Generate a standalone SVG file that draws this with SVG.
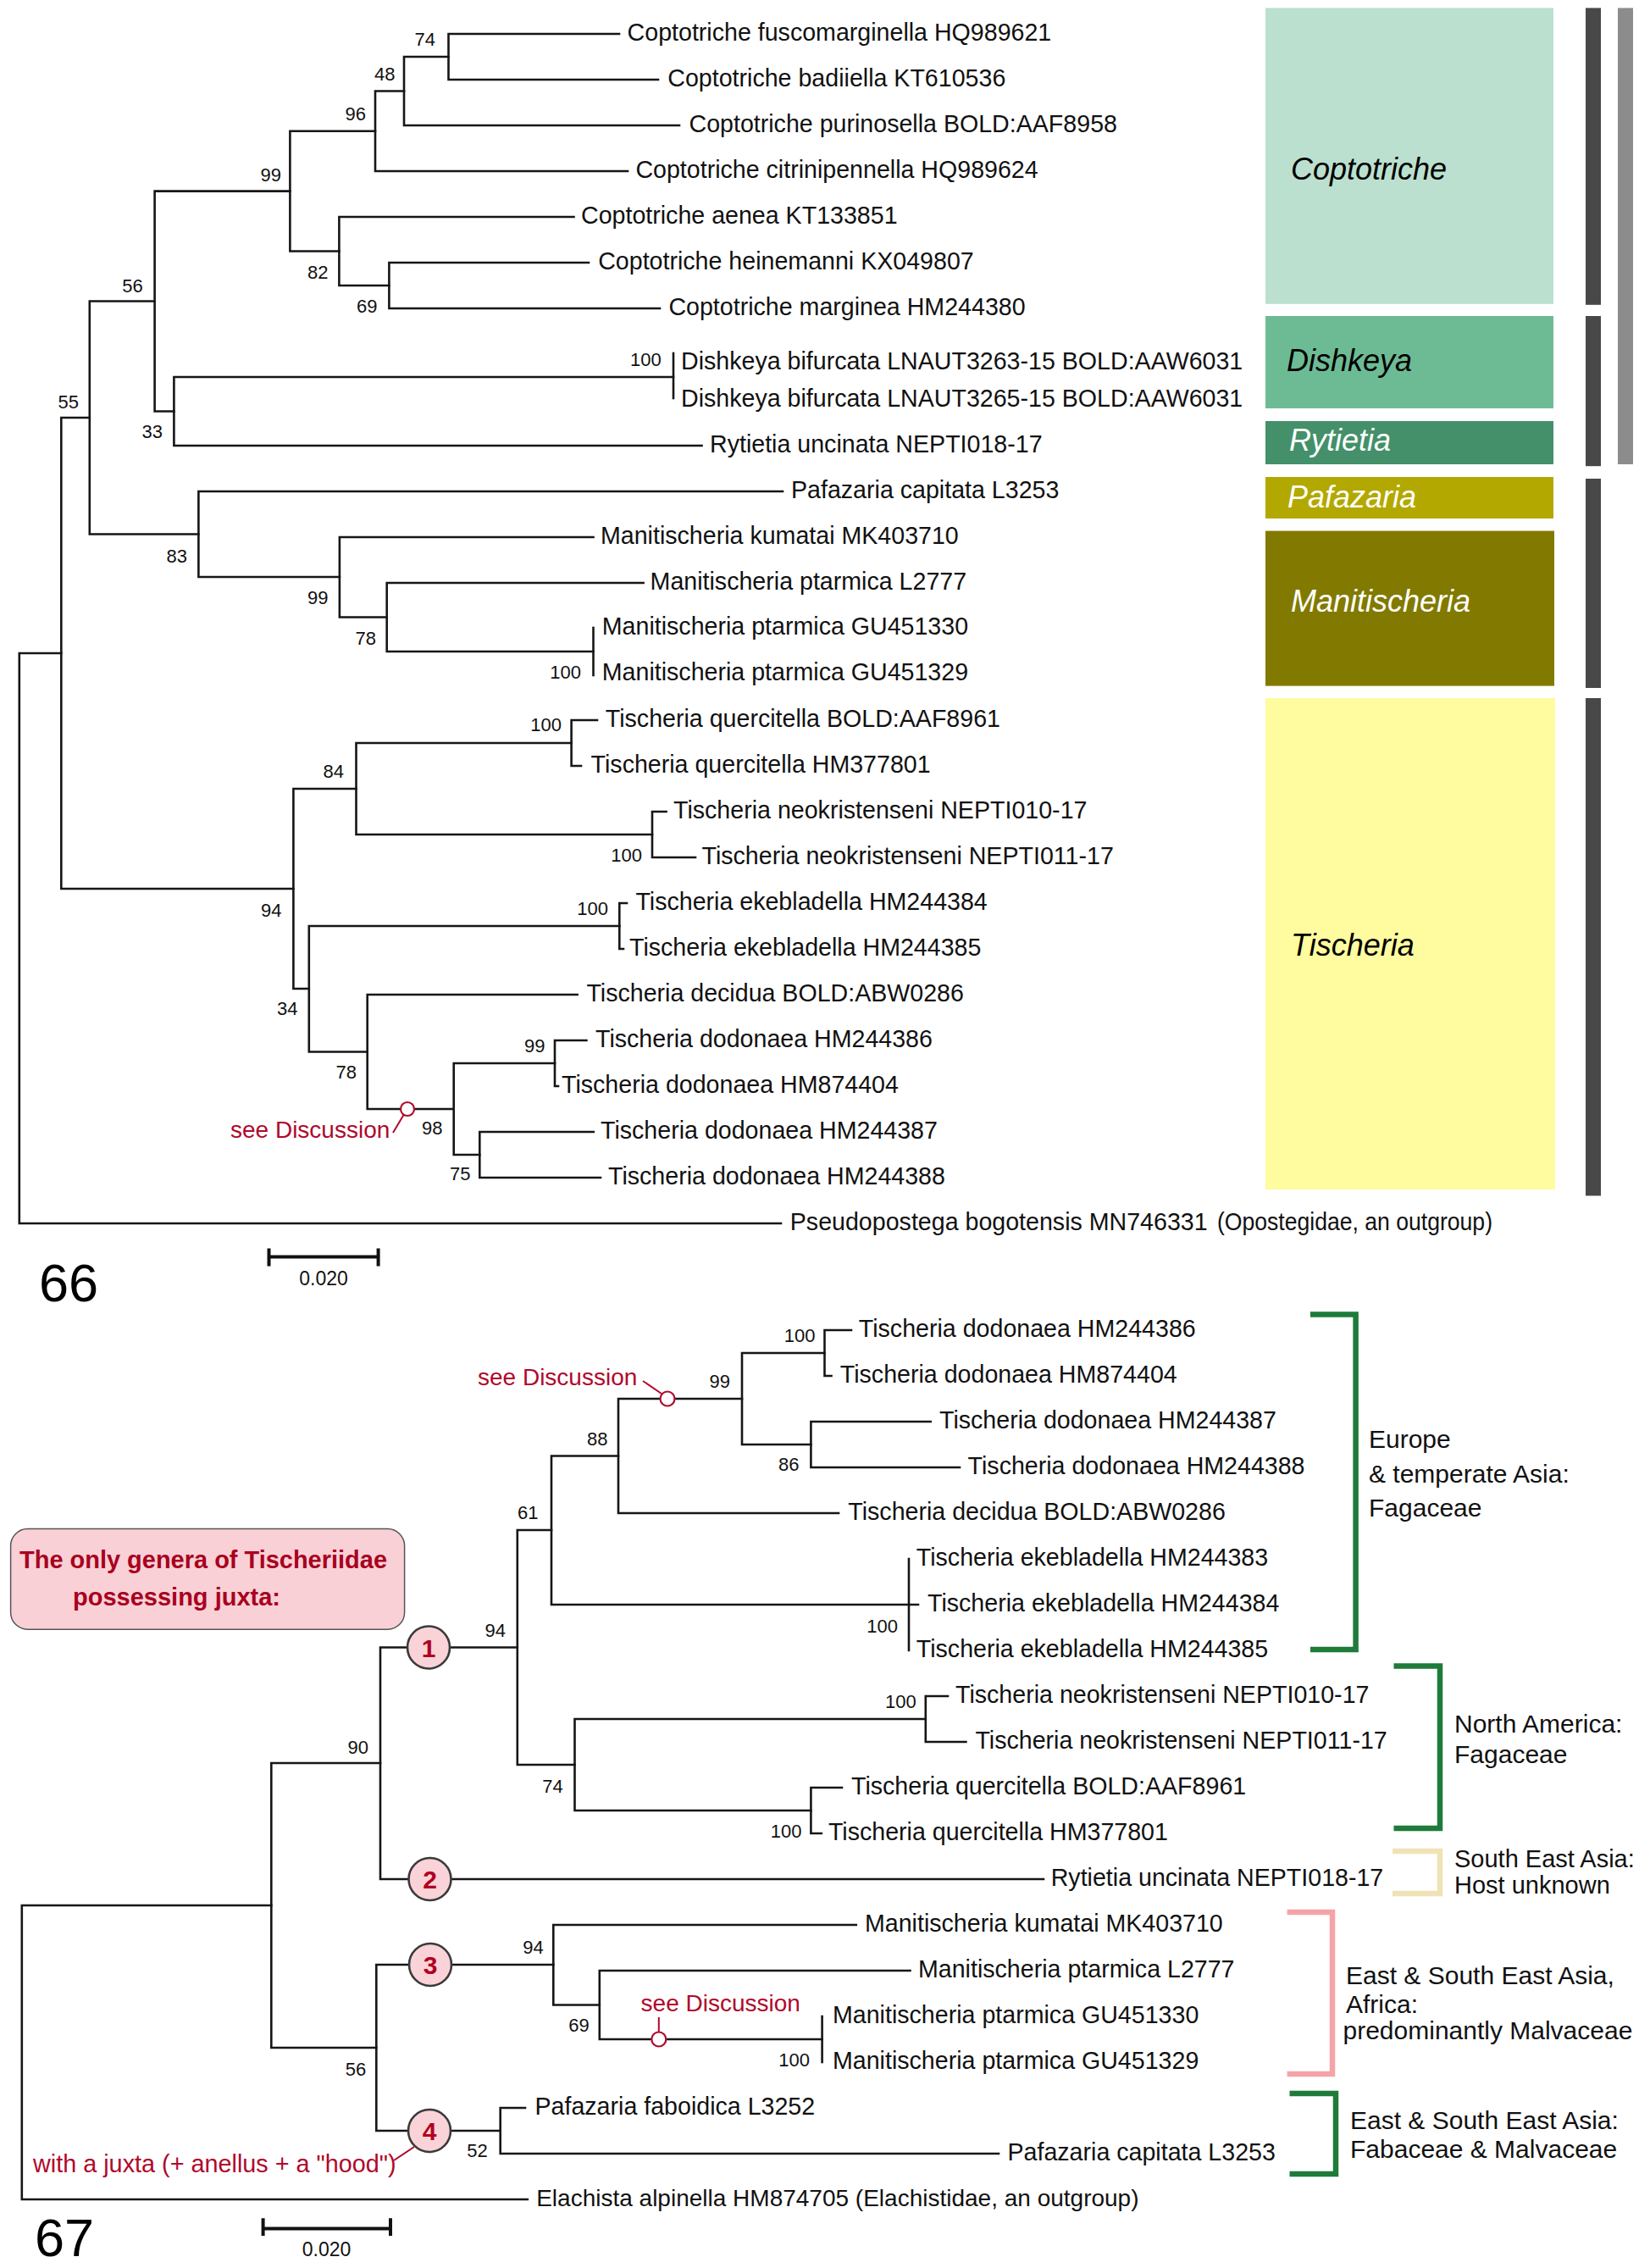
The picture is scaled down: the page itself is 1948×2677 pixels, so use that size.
<svg xmlns="http://www.w3.org/2000/svg" width="1948" height="2677" viewBox="0 0 1948 2677">
<style>
text{font-family:"Liberation Sans",Arial,sans-serif;}
.br{fill:none;stroke:#161616;stroke-width:2.6;stroke-linecap:square;}
.lf{font-size:28.6px;fill:#111;}
.bs{font-size:22px;fill:#111;text-anchor:end;}
.gn{font-size:36px;font-style:italic;}
.rg{font-size:30px;fill:#111;}
.red{font-size:28px;fill:#b0082c;}
.rl{fill:none;stroke:#b0082c;stroke-width:2;}
.mk{fill:#fff;stroke:#b0082c;stroke-width:2.2;}
.cn{fill:#f9d3d8;stroke:#3a3a3a;stroke-width:2.6;}
.cnt{font-size:30px;font-weight:bold;fill:#b0001f;text-anchor:middle;}
.bk{fill:none;stroke-width:6.5;}
.sb{fill:none;stroke:#111;stroke-width:4;}
</style>
<rect x="0" y="0" width="1948" height="2677" fill="#fff"/>

<!-- ===== Figure 66 ===== -->
<g id="connectors-66">
<path class="br" d="M529.5,40 V94 M529.5,40 H731 M529.5,94 H777"/>
<path class="br" d="M477,67 V148 M477,67 H529.5 M477,148 H802"/>
<path class="br" d="M443,107.5 V202 M443,107.5 H477 M443,202 H741"/>
<path class="br" d="M459.4,310 V364 M459.4,310 H695 M459.4,364 H779"/>
<path class="br" d="M400.4,256 V337 M400.4,256 H677.5 M400.4,337 H459.4"/>
<path class="br" d="M342.4,154.75 V296.5 M342.4,154.75 H443 M342.4,296.5 H400.4"/>
<path class="br" d="M795,417 V470"/>
<path class="br" d="M205.4,445 V526 M205.4,445 H795 M205.4,526 H828.5"/>
<path class="br" d="M182.6,225.6 V485.5 M182.6,225.6 H342.4 M182.6,485.5 H205.4"/>
<path class="br" d="M700.5,741 V797"/>
<path class="br" d="M456.7,688 V769 M456.7,688 H759.6 M456.7,769 H700.5"/>
<path class="br" d="M400.9,634 V728.5 M400.9,634 H700.5 M400.9,728.5 H456.7"/>
<path class="br" d="M234.4,580 V681 M234.4,580 H924 M234.4,681 H400.9"/>
<path class="br" d="M105.8,355.5 V630.5 M105.8,355.5 H182.6 M105.8,630.5 H234.4"/>
<path class="br" d="M674.6,850 V904 M674.6,850 H705 M674.6,904 H686"/>
<path class="br" d="M770,958 V1012 M770,958 H786.6 M770,1012 H821"/>
<path class="br" d="M420.5,877 V985 M420.5,877 H674.6 M420.5,985 H770"/>
<path class="br" d="M731.3,1066 V1120 M731.3,1066 H740 M731.3,1120 H736"/>
<path class="br" d="M655,1228 V1282 M655,1228 H692.4 M655,1282 H659"/>
<path class="br" d="M566.3,1336 V1390 M566.3,1336 H700.7 M566.3,1390 H709"/>
<path class="br" d="M535.7,1255 V1363 M535.7,1255 H655 M535.7,1363 H566.3"/>
<path class="br" d="M433.7,1174 V1309 M433.7,1174 H681.6 M433.7,1309 H535.7"/>
<path class="br" d="M364.8,1093 V1241.5 M364.8,1093 H731.3 M364.8,1241.5 H433.7"/>
<path class="br" d="M346.4,931 V1167 M346.4,931 H420.5 M346.4,1167 H364.8"/>
<path class="br" d="M72.3,493 V1049 M72.3,493 H105.8 M72.3,1049 H346.4"/>
<path class="br" d="M22.8,771 V1444 M22.8,771 H72.3 M22.8,1444 H922"/>
<path class="rl" d="M464,1337 L476.5,1316"/>
<circle class="mk" cx="481" cy="1309" r="8"/>
</g>

<g id="leaves-66">
<text class="lf" x="740.6" y="48">Coptotriche fuscomarginella HQ989621</text>
<text class="lf" x="788.3" y="102">Coptotriche badiiella KT610536</text>
<text class="lf" x="813.5" y="156">Coptotriche purinosella BOLD:AAF8958</text>
<text class="lf" x="750.4" y="210">Coptotriche citrinipennella HQ989624</text>
<text class="lf" x="686" y="264">Coptotriche aenea KT133851</text>
<text class="lf" x="706.2" y="318">Coptotriche heinemanni KX049807</text>
<text class="lf" x="789.4" y="372">Coptotriche marginea HM244380</text>
<text class="lf" x="804" y="436">Dishkeya bifurcata LNAUT3263-15 BOLD:AAW6031</text>
<text class="lf" x="804" y="480">Dishkeya bifurcata LNAUT3265-15 BOLD:AAW6031</text>
<text class="lf" x="838" y="534">Rytietia uncinata NEPTI018-17</text>
<text class="lf" x="934" y="588">Pafazaria capitata L3253</text>
<text class="lf" x="709" y="642">Manitischeria kumatai MK403710</text>
<text class="lf" x="767.6" y="696">Manitischeria ptarmica L2777</text>
<text class="lf" x="710.8" y="749">Manitischeria ptarmica GU451330</text>
<text class="lf" x="710.8" y="803">Manitischeria ptarmica GU451329</text>
<text class="lf" x="714.8" y="858">Tischeria quercitella BOLD:AAF8961</text>
<text class="lf" x="697.6" y="912">Tischeria quercitella HM377801</text>
<text class="lf" x="795" y="966">Tischeria neokristenseni NEPTI010-17</text>
<text class="lf" x="828.5" y="1020">Tischeria neokristenseni NEPTI011-17</text>
<text class="lf" x="750.4" y="1074">Tischeria ekebladella HM244384</text>
<text class="lf" x="743" y="1128">Tischeria ekebladella HM244385</text>
<text class="lf" x="692.4" y="1182">Tischeria decidua BOLD:ABW0286</text>
<text class="lf" x="703" y="1236">Tischeria dodonaea HM244386</text>
<text class="lf" x="663" y="1290">Tischeria dodonaea HM874404</text>
<text class="lf" x="709" y="1344">Tischeria dodonaea HM244387</text>
<text class="lf" x="718" y="1398">Tischeria dodonaea HM244388</text>
<text class="lf" x="932.8" y="1452">Pseudopostega bogotensis MN746331</text>
<text class="lf" x="1437" y="1452" fill="#22223a" textLength="325" lengthAdjust="spacingAndGlyphs">(Opostegidae, an outgroup)</text>
</g>

<g id="support-66">
<text class="bs" x="514" y="54">74</text>
<text class="bs" x="466.5" y="94.6">48</text>
<text class="bs" x="432" y="142">96</text>
<text class="bs" x="332" y="214">99</text>
<text class="bs" x="387.5" y="328.6">82</text>
<text class="bs" x="445.5" y="368.6">69</text>
<text class="bs" x="168.8" y="344.6">56</text>
<text class="bs" x="192" y="517">33</text>
<text class="bs" x="93" y="482">55</text>
<text class="bs" x="780.8" y="432">100</text>
<text class="bs" x="221" y="664">83</text>
<text class="bs" x="387.5" y="713">99</text>
<text class="bs" x="444" y="760.7">78</text>
<text class="bs" x="686" y="801.4">100</text>
<text class="bs" x="663" y="863">100</text>
<text class="bs" x="757.9" y="1016.8">100</text>
<text class="bs" x="406" y="917.9">84</text>
<text class="bs" x="332.6" y="1082">94</text>
<text class="bs" x="718" y="1080">100</text>
<text class="bs" x="351.6" y="1198">34</text>
<text class="bs" x="421" y="1272.7">78</text>
<text class="bs" x="643.5" y="1241.7">99</text>
<text class="bs" x="522.4" y="1339">98</text>
<text class="bs" x="555.5" y="1393">75</text>
</g>
<text class="red" x="272" y="1343">see Discussion</text>

<g id="genus-boxes">
<g id="box-coptotriche"><rect x="1494" y="9.4" width="340" height="349.4" fill="#bbe0cf"/><text class="gn" x="1524" y="212" fill="#000">Coptotriche</text></g>
<g id="box-dishkeya"><rect x="1494" y="373" width="340" height="109" fill="#6dbb95"/><text class="gn" x="1519" y="438" fill="#000">Dishkeya</text></g>
<g id="box-rytietia"><rect x="1494" y="497" width="340" height="51" fill="#43906a"/><text class="gn" x="1522" y="532" fill="#fff">Rytietia</text></g>
<g id="box-pafazaria"><rect x="1494" y="563" width="340" height="49" fill="#b3a800"/><text class="gn" x="1520" y="599" fill="#fff">Pafazaria</text></g>
<g id="box-manitischeria"><rect x="1494" y="626.6" width="341" height="183" fill="#827a00"/><text class="gn" x="1524" y="722" fill="#fff">Manitischeria</text></g>
<g id="box-tischeria"><rect x="1494" y="824" width="342" height="580" fill="#fffb9f"/><text class="gn" x="1524" y="1128" fill="#000">Tischeria</text></g>
</g>
<g id="bars">
<rect x="1872" y="9.4" width="18" height="350.4" fill="#484848"/>
<rect x="1872" y="373" width="18" height="177.2" fill="#484848"/>
<rect x="1872" y="565" width="18" height="247" fill="#484848"/>
<rect x="1872" y="824" width="18" height="587.4" fill="#484848"/>
<rect x="1910" y="9.4" width="18" height="538.6" fill="#8c8c8c"/>
</g>

<g id="label-66"><text x="46" y="1536" font-size="63" fill="#000">66</text></g>
<g id="scale-66">
<path class="sb" d="M317.5,1473.6 V1494.6 M317.5,1483.5 H446.6 M446.6,1473.6 V1494.6"/>
<text x="382" y="1517" font-size="23" fill="#111" text-anchor="middle">0.020</text>
</g>

<!-- ===== Figure 67 ===== -->
<g id="connectors-67">
<path class="br" d="M973.5,1570 V1624 M973.5,1570 H1005 M973.5,1624 H981.5"/>
<path class="br" d="M957.4,1678 V1732 M957.4,1678 H1098.7 M957.4,1732 H1133"/>
<path class="br" d="M876,1597 V1705 M876,1597 H973.5 M876,1705 H957.4"/>
<path class="br" d="M730,1651 V1786 M730,1651 H876 M730,1786 H990"/>
<path class="br" d="M1073,1840 V1948 M1073,1894 H1084"/>
<path class="br" d="M651,1718.5 V1894 M651,1718.5 H730 M651,1894 H1073"/>
<path class="br" d="M1092.8,2002 V2056 M1092.8,2002 H1119 M1092.8,2056 H1140.4"/>
<path class="br" d="M957.4,2110 V2164 M957.4,2110 H994 M957.4,2164 H969.8"/>
<path class="br" d="M678.5,2029 V2137 M678.5,2029 H1092.8 M678.5,2137 H957.4"/>
<path class="br" d="M610.8,1806 V2083 M610.8,1806 H651 M610.8,2083 H678.5"/>
<path class="br" d="M449,1944.5 V2218 M449,1944.5 H610.8 M449,2218 H1232"/>
<path class="br" d="M970.6,2380 V2434"/>
<path class="br" d="M707.8,2326 V2407 M707.8,2326 H1074.5 M707.8,2407 H970.6"/>
<path class="br" d="M653.3,2272 V2366.5 M653.3,2272 H1010.8 M653.3,2366.5 H707.8"/>
<path class="br" d="M590.7,2488 V2542 M590.7,2488 H620 M590.7,2542 H1179"/>
<path class="br" d="M444.3,2319 V2515 M444.3,2319 H653.3 M444.3,2515 H590.7"/>
<path class="br" d="M320.3,2081 V2417 M320.3,2081 H449 M320.3,2417 H444.3"/>
<path class="br" d="M25.8,2249 V2596 M25.8,2249 H320.3 M25.8,2596 H622.8"/>
<path class="rl" d="M759,1630 L781,1645"/>
<circle class="mk" cx="788" cy="1651" r="8.5"/>
<path class="rl" d="M777.8,2398.5 V2381"/>
<circle class="mk" cx="777.8" cy="2407" r="8.5"/>
<path class="rl" d="M465,2550 L489,2534"/>
</g>

<g id="leaves-67">
<text class="lf" x="1013.8" y="1578">Tischeria dodonaea HM244386</text>
<text class="lf" x="991.8" y="1632">Tischeria dodonaea HM874404</text>
<text class="lf" x="1109" y="1686">Tischeria dodonaea HM244387</text>
<text class="lf" x="1142.6" y="1740">Tischeria dodonaea HM244388</text>
<text class="lf" x="1001.3" y="1794">Tischeria decidua BOLD:ABW0286</text>
<text class="lf" x="1081.8" y="1848">Tischeria ekebladella HM244383</text>
<text class="lf" x="1095" y="1902">Tischeria ekebladella HM244384</text>
<text class="lf" x="1081.8" y="1956">Tischeria ekebladella HM244385</text>
<text class="lf" x="1128" y="2010">Tischeria neokristenseni NEPTI010-17</text>
<text class="lf" x="1151.4" y="2064">Tischeria neokristenseni NEPTI011-17</text>
<text class="lf" x="1005" y="2118">Tischeria quercitella BOLD:AAF8961</text>
<text class="lf" x="977.9" y="2172">Tischeria quercitella HM377801</text>
<text class="lf" x="1240.7" y="2226">Rytietia uncinata NEPTI018-17</text>
<text class="lf" x="1021" y="2280">Manitischeria kumatai MK403710</text>
<text class="lf" x="1084" y="2334">Manitischeria ptarmica L2777</text>
<text class="lf" x="983" y="2388">Manitischeria ptarmica GU451330</text>
<text class="lf" x="983" y="2442">Manitischeria ptarmica GU451329</text>
<text class="lf" x="631.5" y="2496">Pafazaria faboidica L3252</text>
<text class="lf" x="1189.5" y="2550">Pafazaria capitata L3253</text>
<text class="lf" x="633.2" y="2604" style="font-size:28px">Elachista alpinella HM874705 (Elachistidae, an outgroup)</text>
</g>

<g id="support-67">
<text class="bs" x="962.5" y="1584">100</text>
<text class="bs" x="862" y="1638">99</text>
<text class="bs" x="943.5" y="1736">86</text>
<text class="bs" x="717.6" y="1705.7">88</text>
<text class="bs" x="635.5" y="1793">61</text>
<text class="bs" x="1060" y="1927">100</text>
<text class="bs" x="597" y="1932">94</text>
<text class="bs" x="1081.8" y="2016.4">100</text>
<text class="bs" x="664.8" y="2115.7">74</text>
<text class="bs" x="946.4" y="2169">100</text>
<text class="bs" x="435" y="2070">90</text>
<text class="bs" x="641.8" y="2305.7">94</text>
<text class="bs" x="695.8" y="2398">69</text>
<text class="bs" x="956" y="2438.6">100</text>
<text class="bs" x="432.3" y="2450">56</text>
<text class="bs" x="575.8" y="2546">52</text>
</g>
<text class="red" x="564" y="1635">see Discussion</text>
<text class="red" x="756.6" y="2373.5">see Discussion</text>
<text class="red" x="39" y="2563.5" style="font-size:28.8px">with a juxta (+ anellus + a &quot;hood&quot;)</text>

<g id="juxta-nodes">
<g id="n1"><circle class="cn" cx="506" cy="1944.5" r="25"/><text class="cnt" x="506" y="1955.5">1</text></g>
<g id="n2"><circle class="cn" cx="507.5" cy="2218" r="25"/><text class="cnt" x="507.5" y="2229">2</text></g>
<g id="n3"><circle class="cn" cx="508" cy="2319" r="25"/><text class="cnt" x="508" y="2330">3</text></g>
<g id="n4"><circle class="cn" cx="507" cy="2515" r="25"/><text class="cnt" x="507" y="2526">4</text></g>
</g>

<g id="juxta-box">
<rect x="12.6" y="1804.6" width="465" height="118.6" rx="20" fill="#f9d0d6" stroke="#555" stroke-width="1.5"/>
<text x="23" y="1851" font-size="29" font-weight="bold" fill="#a8001e" textLength="434" lengthAdjust="spacingAndGlyphs">The only genera of Tischeriidae</text>
<text x="86" y="1894.7" font-size="29" font-weight="bold" fill="#a8001e" textLength="245" lengthAdjust="spacingAndGlyphs">possessing juxta:</text>
</g>

<g id="regions">
<g id="reg-europe">
<path class="bk" stroke="#1e7b3a" d="M1547,1551.4 H1600.6 V1947 H1547"/>
<text class="rg" x="1616" y="1709">Europe</text>
<text class="rg" x="1616" y="1750">&amp; temperate Asia:</text>
<text class="rg" x="1616" y="1790">Fagaceae</text>
</g>
<g id="reg-namerica">
<path class="bk" stroke="#1e7b3a" d="M1645.5,1966.5 H1700 V2158 H1645.5"/>
<text class="rg" x="1717" y="2045">North America:</text>
<text class="rg" x="1717" y="2081">Fagaceae</text>
</g>
<g id="reg-sea">
<path class="bk" stroke="#efe3b5" d="M1644,2185 H1700 V2235 H1644"/>
<text class="rg" x="1717" y="2204" style="font-size:29px">South East Asia:</text>
<text class="rg" x="1717" y="2235" style="font-size:29px">Host unknown</text>
</g>
<g id="reg-africa">
<path class="bk" stroke="#f4a4a8" d="M1519.6,2257 H1573 V2448 H1519.6"/>
<text class="rg" x="1589" y="2342">East &amp; South East Asia,</text>
<text class="rg" x="1589" y="2376">Africa:</text>
<text class="rg" x="1585.5" y="2407">predominantly Malvaceae</text>
</g>
<g id="reg-fabaceae">
<path class="bk" stroke="#1e7b3a" d="M1522.5,2471 H1577 V2566 H1522.5"/>
<text class="rg" x="1594" y="2513">East &amp; South East Asia:</text>
<text class="rg" x="1594" y="2547">Fabaceae &amp; Malvaceae</text>
</g>
</g>

<g id="label-67"><text x="41" y="2663" font-size="63" fill="#000">67</text></g>
<g id="scale-67">
<path class="sb" d="M310.6,2618.3 V2639 M310.6,2630.4 H461 M461,2618.3 V2639"/>
<text x="385.5" y="2662.8" font-size="23" fill="#111" text-anchor="middle">0.020</text>
</g>
</svg>
